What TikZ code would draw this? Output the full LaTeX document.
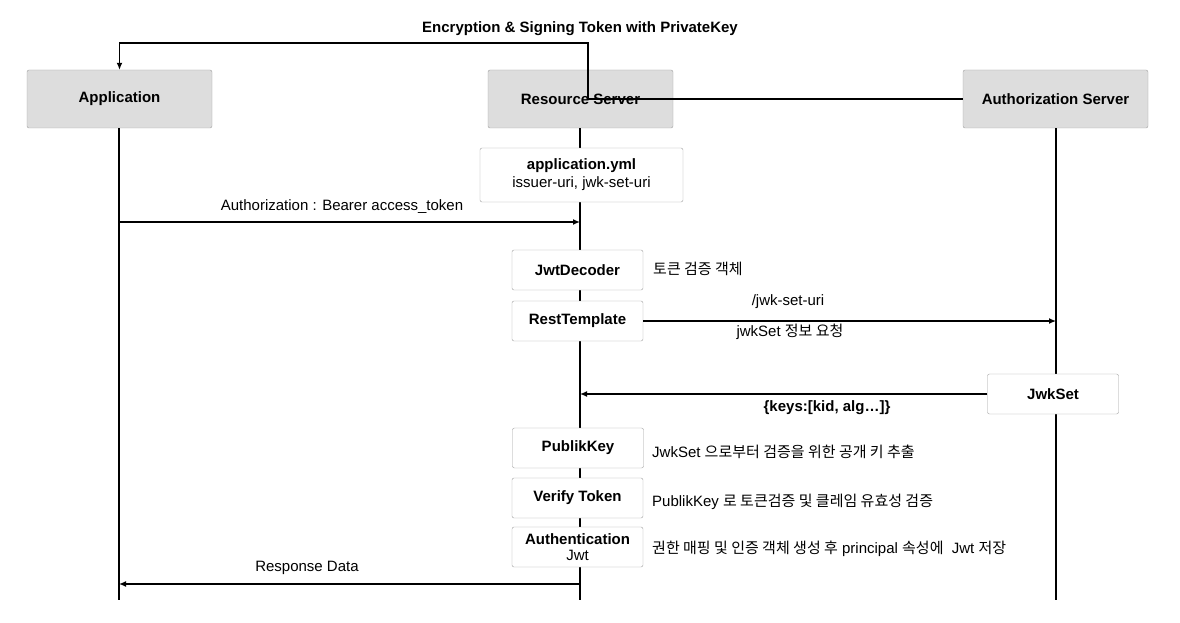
\documentclass[tikz,border=0pt]{standalone}
\usepackage{fontspec}
\setmainfont{Liberation Sans}
\newfontfamily\kr{Noto Sans CJK KR}
\usetikzlibrary{arrows.meta,positioning}
\definecolor{hdrfill}{HTML}{DDDDDD}
\definecolor{boxline}{HTML}{A0A0A0}
\begin{document}
\begin{tikzpicture}[x=1pt,y=-1pt]
\tikzstyle{every node}+=[font=\fontsize{15}{18}\selectfont]
\tikzstyle{actor}=[draw=boxline,fill=hdrfill,rounded corners=2pt,minimum width=185pt,minimum height=58pt,font=\fontsize{15}{18}\selectfont\bfseries]
\tikzstyle{stepbox}=[draw=boxline,fill=white,rounded corners=2pt,minimum width=131pt,minimum height=40pt,inner sep=1pt,align=center,font=\fontsize{15}{18}\selectfont\bfseries]
\tikzstyle{note}=[anchor=west,inner sep=0pt]
\tikzstyle{life}=[black,line width=1.3pt]
\tikzstyle{arr}=[black,line width=1.3pt,-{Latex[length=7pt,width=6pt]}]
\useasboundingbox (0,0) rectangle (1180,623);
\node[actor] (app) at (119.5,99) {Application};
\node[actor] (res) at (580.5,99) {Resource Server};
\node[actor] (auth) at (1055.5,99) {Authorization Server};
\coordinate (append) at (119,600);
\coordinate (resend) at (580,600);
\coordinate (authend) at (1056,600);
\draw[life] (app.south -| append) -- (append);
\draw[life] (res.south -| resend) -- (resend);
\draw[life] (auth.south -| authend) -- (authend);
\node[stepbox,minimum width=203pt,minimum height=54pt,font=\fontsize{15}{18}\selectfont] (yml) at (581.5,175) {\textbf{application.yml}\\issuer-uri, jwk-set-uri};
\node[stepbox] (decoder) at (577.5,270) {JwtDecoder};
\node[stepbox] (rest) at (577.5,321) {RestTemplate};
\node[stepbox] (jwks) at (1053,394) {JwkSet};
\node[stepbox] (pubkey) at (578,448) {PublikKey};
\node[stepbox] (verify) at (577.5,498) {Verify Token};
\node[stepbox,font=\fontsize{15}{16}\selectfont] (authn) at (577.5,547) {\textbf{Authentication}\\Jwt};
\coordinate (turn) at (588,43);
\draw[arr] (auth.west) -- (auth.west -| turn) -- (turn) -| (app.north);
\node[font=\fontsize{15}{18}\selectfont\bfseries] (enclbl) at (580,29) {Encryption \& Signing Token with PrivateKey};
\coordinate (reqstart) at (119,222);
\draw[arr] (reqstart) -- (reqstart -| resend);
\node (reqlbl) at (342,207) {Authorization : Bearer access\_token};
\node[note] (decnote) at (653,269) {\kr 토큰 검증 객체};
\draw[arr] (rest.east) -- (rest.east -| authend);
\node (urilbl) at (788,302) {/jwk-set-uri};
\node (reqjwk) at (790,332) {jwkSet {\kr 정보 요청}};
\draw[arr] (jwks.west) -- (jwks.west -| resend);
\node[font=\fontsize{15}{18}\selectfont\bfseries] (keyslbl) at (827,408) {\{keys:[kid, alg…]\}};
\node[note] (pubnote) at (652,452) {JwkSet {\kr 으로부터 검증을 위한 공개 키 추출}};
\node[note] (vernote) at (652,502) {PublikKey {\kr 로 토큰검증 및 클레임 유효성 검증}};
\node[note] (authnote) at (652,549) {{\kr 권한 매핑 및 인증 객체 생성 후} principal {\kr 속성에}\ \ Jwt {\kr 저장}};
\coordinate (respstart) at (580,584);
\draw[arr] (respstart) -- (respstart -| append);
\node (resplbl) at (307,568) {Response Data};
\end{tikzpicture}
\end{document}
